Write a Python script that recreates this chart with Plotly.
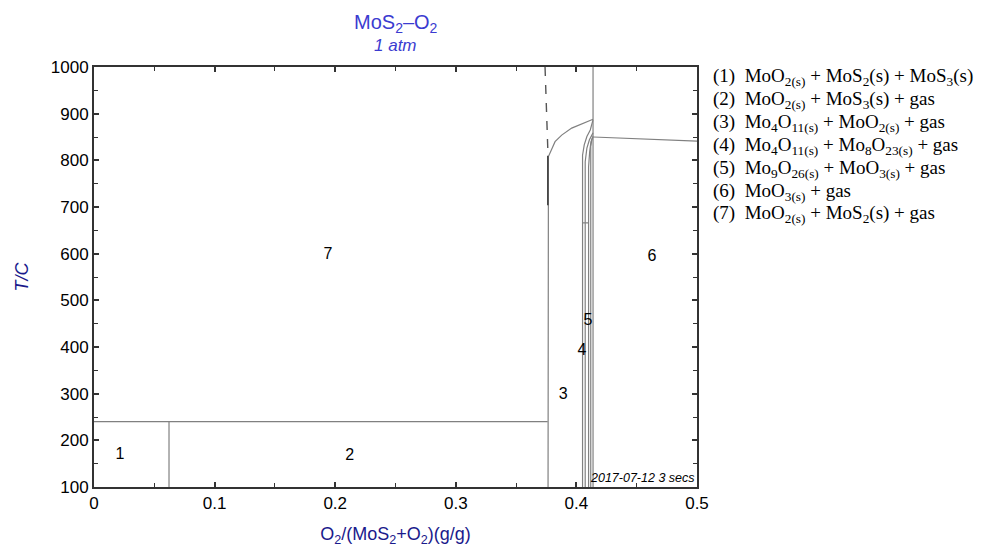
import plotly.graph_objects as go

# ---- data ----
# horizontal boundary at ~240 C between regions 1/2 and 7
h240_x = [0.0, 0.3762]
h240_T = [240, 240]
# vertical boundary between 1 and 2
v12_x = [0.0622, 0.0622]
v12_T = [100, 240]
# 3/7 boundary with curve (lower part)
b37_x = [0.3765, 0.3765, 0.3768, 0.3823, 0.3878, 0.3961, 0.4044, 0.4132, 0.4138]
b37_T = [100, 805, 808, 840, 854, 869, 878, 886, 888]
# upper dashed part of 3/7 boundary
b37u_x = [0.3740, 0.3765]
b37u_T = [1000, 808]
# dark spike
spike_x = [0.3763, 0.3763]
spike_T = [810, 704]
# boundaries of narrow regions 3/4/5
bB_x = [0.4051, 0.4051, 0.4065, 0.4087, 0.4115, 0.4137]
bB_T = [100, 811, 833, 851, 865, 886]
bC_x = [0.4073, 0.4073, 0.4087, 0.4108, 0.4128, 0.4138]
bC_T = [100, 797, 826, 844, 854, 859]
bD_x = [0.4101, 0.4101, 0.4110, 0.4121, 0.4138]
bD_T = [100, 786, 818, 840, 851]
bE_x = [0.4119, 0.4119, 0.4128, 0.4138]
bE_T = [100, 830, 845, 851]
box_x = [0.4051, 0.4101]
box_T = [666, 666]
# main vertical at MoO3 composition
v6_x = [0.4138, 0.4138]
v6_T = [100, 1000]
# upper boundary of region 6
b6_x = [0.4140, 0.5]
b6_T = [850, 841]

region_labels = ["1", "2", "7", "3", "4", "5", "6"]
region_x = [0.0216, 0.212, 0.194, 0.389, 0.4046, 0.4096, 0.4627]
region_T = [169, 167, 597, 297, 391, 456, 593]

legend_lines = [
    "(1)  MoO<sub>2(s)</sub> + MoS<sub>2</sub>(s) + MoS<sub>3</sub>(s)",
    "(2)  MoO<sub>2(s)</sub> + MoS<sub>3</sub>(s) + gas",
    "(3)  Mo<sub>4</sub>O<sub>11(s)</sub> + MoO<sub>2(s)</sub> + gas",
    "(4)  Mo<sub>4</sub>O<sub>11(s)</sub> + Mo<sub>8</sub>O<sub>23(s)</sub> + gas",
    "(5)  Mo<sub>9</sub>O<sub>26(s)</sub> + MoO<sub>3(s)</sub> + gas",
    "(6)  MoO<sub>3(s)</sub> + gas",
    "(7)  MoO<sub>2(s)</sub> + MoS<sub>2</sub>(s) + gas",
]

x_ticks = [0, 0.1, 0.2, 0.3, 0.4, 0.5]
x_ticklabels = ["0", "0.1", "0.2", "0.3", "0.4", "0.5"]
y_ticks = [100, 200, 300, 400, 500, 600, 700, 800, 900, 1000]

# ---- figure ----
fig = go.Figure()
GREY = "#808080"
solid = [
    (h240_x, h240_T), (v12_x, v12_T), (b37_x, b37_T),
    (bB_x, bB_T), (bC_x, bC_T), (bD_x, bD_T), (bE_x, bE_T),
    (box_x, box_T), (v6_x, v6_T), (b6_x, b6_T),
]
for xs, ts in solid:
    fig.add_trace(go.Scatter(x=xs, y=ts, mode="lines",
                             line=dict(color=GREY, width=1.2),
                             showlegend=False, hoverinfo="skip"))
fig.add_trace(go.Scatter(x=b37u_x, y=b37u_T, mode="lines",
                         line=dict(color="#555555", width=1.4, dash="dash"),
                         showlegend=False, hoverinfo="skip"))
fig.add_trace(go.Scatter(x=spike_x, y=spike_T, mode="lines",
                         line=dict(color="#444444", width=1.6),
                         showlegend=False, hoverinfo="skip"))

fig.add_trace(go.Scatter(x=region_x, y=region_T, mode="text", text=region_labels,
                         textfont=dict(family="Liberation Sans, Arial", size=16, color="black"),
                         showlegend=False, hoverinfo="skip"))

# legend text block
y0 = 0.976
dy = 0.0545
for i, line in enumerate(legend_lines):
    fig.add_annotation(text=line, xref="paper", yref="paper",
                       x=1.023, y=y0 - i * dy, xanchor="left", yanchor="middle",
                       showarrow=False,
                       font=dict(family="Liberation Serif, Times New Roman", size=19, color="black"))

# title
fig.add_annotation(text="MoS<sub>2</sub>–O<sub>2</sub>", xref="paper", yref="paper",
                   x=0.5, y=1.0, yshift=44, xanchor="center", yanchor="middle",
                   showarrow=False,
                   font=dict(family="Liberation Sans, Arial", size=20, color="#3b3bd0"))
fig.add_annotation(text="<i>1 atm</i>", xref="paper", yref="paper",
                   x=0.5, y=1.0, yshift=22, xanchor="center", yanchor="middle",
                   showarrow=False,
                   font=dict(family="Liberation Sans, Arial", size=17, color="#3b3bd0"))

# date stamp
fig.add_annotation(text="<i>2017-07-12 3 secs</i>", xref="paper", yref="paper",
                   x=1.0, y=0.0, yshift=9, xanchor="right", yanchor="middle",
                   showarrow=False,
                   font=dict(family="Liberation Sans, Arial", size=12.5, color="black"))

axis_common = dict(
    showline=True, linecolor="#333333", linewidth=2, mirror="ticks",
    ticks="inside", ticklen=5, tickwidth=1.5, tickcolor="#333333",
    showgrid=False, zeroline=False,
    tickfont=dict(family="Liberation Sans, Arial", size=17, color="black"),
)

fig.update_xaxes(range=[0, 0.5], tickvals=x_ticks, ticktext=x_ticklabels,
                 minor=dict(ticks="inside", ticklen=4, tickwidth=1.2, tickcolor="#333333",
                            dtick=0.05, tick0=0, showgrid=False),
                 title=dict(text="O<sub>2</sub>/(MoS<sub>2</sub>+O<sub>2</sub>)(g/g)",
                            font=dict(family="Liberation Sans, Arial", size=18, color="#1a1a8c"),
                            standoff=15),
                 **axis_common)
fig.update_yaxes(range=[100, 1000], tickvals=y_ticks,
                 minor=dict(ticks="inside", ticklen=4, tickwidth=1.2, tickcolor="#333333",
                            dtick=50, tick0=0, showgrid=False),
                 title=dict(text="<i>T/C</i>",
                            font=dict(family="Liberation Sans, Arial", size=18, color="#1a1a8c"),
                            standoff=17),
                 **axis_common)

fig.update_layout(
    width=974, height=539,
    margin=dict(l=86, r=285, t=59, b=60, autoexpand=False),
    plot_bgcolor="white", paper_bgcolor="white",
    showlegend=False,
)

fig.write_html("out.html")
